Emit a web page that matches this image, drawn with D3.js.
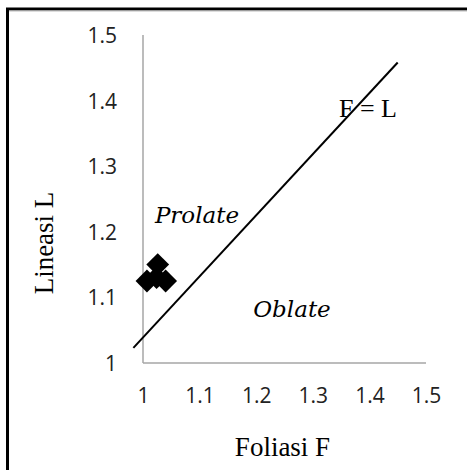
<!DOCTYPE html>
<html><head><meta charset="utf-8">
<script src="https://cdn.jsdelivr.net/npm/d3@7"></script>
<style>html,body{margin:0;padding:0;background:#fff;}svg{display:block;}</style>
</head><body>
<svg id="c" width="467" height="470"></svg>
<script>
const xTicks = [1, 1.1, 1.2, 1.3, 1.4, 1.5];
const yTicks = [1, 1.1, 1.2, 1.3, 1.4, 1.5];
const xTickLabels = ["1", "1.1", "1.2", "1.3", "1.4", "1.5"];
const yTickLabels = ["1", "1.1", "1.2", "1.3", "1.4", "1.5"];
const foliasiF = [1.007, 1.026, 1.040, 1.024];
const lineasiL = [1.125, 1.150, 1.125, 1.130];
const lineF = [0.983, 1.45];
const lineL = [1.023, 1.458];
const xTitle = "Foliasi F";
const yTitle = "Lineasi L";
const regionLabels = ["Prolate", "Oblate"];
const lineLabel = "F = L";

const svg = d3.select("#c");
const x = d3.scaleLinear().domain([1, 1.5]).range([143, 426]);
const y = d3.scaleLinear().domain([1, 1.5]).range([363, 35]);

// frame (top & left visible)
svg.append("rect").attr("x", 7.5).attr("y", 9).attr("width", 480).attr("height", 480)
  .attr("fill", "none").attr("stroke", "#000").attr("stroke-width", 3);
svg.append("line").attr("x1", 9).attr("x2", 467).attr("y1", 11).attr("y2", 11)
  .attr("stroke", "#bbb").attr("stroke-width", 1);

const tickFont = "'Open Sans', Lato, sans-serif";
// axes lines
const gx = svg.append("g").attr("transform", `translate(0,${y(1)})`)
  .call(d3.axisBottom(x).tickValues(xTicks).tickSize(0).tickPadding(0)
    .tickFormat((d, i) => xTickLabels[i]));
gx.select(".domain").attr("stroke", "#a6a6a6").attr("stroke-width", 1.5)
  .attr("d", `M${x(1)},0H${x(1.5)}`);
gx.selectAll("text").attr("dy", null).attr("y", 40)
  .style("font-family", tickFont).style("font-size", "21px").attr("fill", "#222");

const gy = svg.append("g").attr("transform", `translate(${x(1)},0)`)
  .call(d3.axisLeft(y).tickValues(yTicks).tickSize(0).tickPadding(26)
    .tickFormat((d, i) => yTickLabels[i]));
gy.select(".domain").attr("stroke", "#a6a6a6").attr("stroke-width", 1.5)
  .attr("d", `M0,${y(1.5)}V${y(1)}`);
gy.selectAll("text").attr("dy", "0.36em")
  .style("font-family", tickFont).style("font-size", "21px").attr("fill", "#222");

// F = L line
const lineData = lineF.map((f, i) => [f, lineL[i]]);
svg.append("path").datum(lineData)
  .attr("d", d3.line().x(d => x(d[0])).y(d => y(d[1])))
  .attr("stroke", "#000").attr("stroke-width", 2).attr("fill", "none");

// markers
const pts = foliasiF.map((f, i) => [f, lineasiL[i]]);
svg.append("g").selectAll("path").data(pts).join("path")
  .attr("transform", d => `translate(${x(d[0])},${y(d[1])}) rotate(45)`)
  .attr("d", d3.symbol(d3.symbolSquare, 260))
  .attr("fill", "#000");

// labels
const serif = "'Liberation Serif', 'Times New Roman', serif";
svg.append("text").attr("x", x(1.25) - 2).attr("y", 456).attr("text-anchor", "middle")
  .style("font-family", serif).style("font-size", "27px").attr("fill", "#000").text(xTitle);
svg.append("text").attr("transform", `translate(53,243) rotate(-90)`).attr("text-anchor", "middle")
  .style("font-family", serif).style("font-size", "27px").attr("fill", "#000").text(yTitle);
svg.append("text").attr("x", 368).attr("y", 117).attr("text-anchor", "middle")
  .style("font-family", serif).style("font-size", "26px").attr("fill", "#000").text(lineLabel);
svg.append("text").attr("x", 197).attr("y", 223).attr("text-anchor", "middle")
  .style("font-family", "'DejaVu Serif', serif").style("font-style", "italic")
  .style("font-size", "23px").attr("fill", "#000").text(regionLabels[0]);
svg.append("text").attr("x", 292).attr("y", 317).attr("text-anchor", "middle")
  .style("font-family", "'DejaVu Serif', serif").style("font-style", "italic")
  .style("font-size", "23px").attr("fill", "#000").text(regionLabels[1]);
</script>
</body></html>
